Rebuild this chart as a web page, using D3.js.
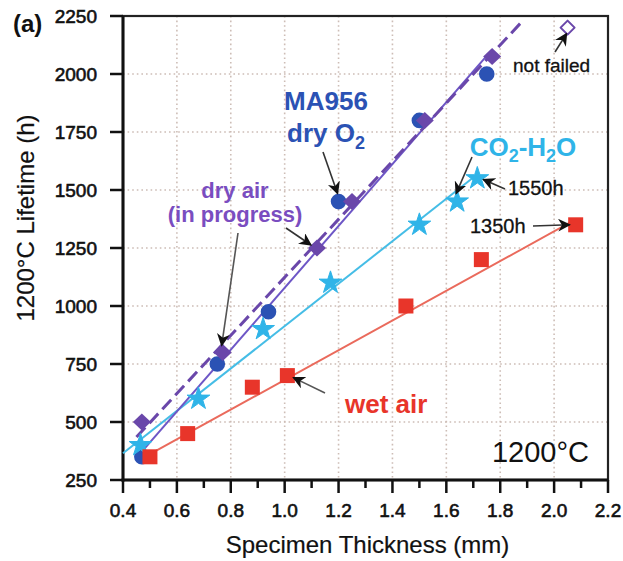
<!DOCTYPE html>
<html><head><meta charset="utf-8">
<script src="https://cdn.jsdelivr.net/npm/d3@7"></script>
<style>
html,body{margin:0;padding:0;background:#fff;}
text{font-family:"Liberation Sans",Arial,Helvetica,sans-serif;}
</style></head>
<body>
<svg id="chart" width="623" height="561"></svg>
<script>
// ---- data ----
const xTicks = [0.4,0.6,0.8,1.0,1.2,1.4,1.6,1.8,2.0,2.2];
const xTickLabels = ["0.4","0.6","0.8","1.0","1.2","1.4","1.6","1.8","2.0","2.2"];
const xMinorTicks = [0.5,0.7,0.9,1.1,1.3,1.5,1.7,1.9,2.1];
const yTicks = [250,500,750,1000,1250,1500,1750,2000,2250];
const yTickLabels = ["250","500","750","1000","1250","1500","1750","2000","2250"];

const dryO2X = [0.47,0.75,0.94,1.20,1.50,1.75];
const dryO2Y = [350,750,975,1450,1800,2000];
const dryAirX = [0.47,0.77,1.12,1.25,1.52,1.77];
const dryAirY = [500,800,1250,1450,1800,2075];
const notFailedX = [2.05];
const notFailedY = [2200];
const co2X = [0.465,0.68,0.92,1.17,1.50,1.64,1.715];
const co2Y = [400,600,900,1100,1350,1450,1550];
const wetX = [0.50,0.64,0.88,1.01,1.45,1.73,2.08];
const wetY = [350,450,650,700,1000,1200,1350];

// fit lines (endpoints)
const dryO2FitX = [0.47,1.77];
const dryO2FitY = [372,2105];
const dryAirFitX = [0.45,1.88];
const dryAirFitY = [435,2225];
const co2FitX = [0.40,1.72];
const co2FitY = [365,1572];
const wetFitX = [0.49,2.08];
const wetFitY = [355,1373];

// ---- layout ----
const svg = d3.select("#chart");
const L=123, R=608, T=16, B=480;
const x = d3.scaleLinear().domain([0.4,2.2]).range([L,R]);
const y = d3.scaleLinear().domain([250,2250]).range([B,T]);

const C = {
  blue:"#2b52b4", purple:"#6a47aa", purpleLine:"#6d56c6", purpleText:"#7a4dc0",
  cyan:"#2fb4e8", cyanLine:"#45bde6", red:"#e8352a", redLine:"#ea6a5c", grid:"#cdbdb6"
};

// grid
const g = svg.append("g");
g.selectAll(".vg").data(xTicks.slice(1,-1)).join("line")
  .attr("x1",d=>x(d)).attr("x2",d=>x(d)).attr("y1",T).attr("y2",B)
  .attr("stroke",C.grid).attr("stroke-width",1.6).attr("stroke-dasharray","1.6,3");
g.selectAll(".hg").data(yTicks.slice(1,-1)).join("line")
  .attr("y1",d=>y(d)).attr("y2",d=>y(d)).attr("x1",L).attr("x2",R)
  .attr("stroke",C.grid).attr("stroke-width",1.6).attr("stroke-dasharray","1.6,3");

// frame
svg.append("rect").attr("x",L).attr("y",T).attr("width",R-L).attr("height",B-T)
  .attr("fill","none").attr("stroke","#222").attr("stroke-width",2.2);
svg.append("line").attr("x1",L).attr("x2",L).attr("y1",T).attr("y2",B+1.5).attr("stroke","#111").attr("stroke-width",3);
svg.append("line").attr("x1",L-1.5).attr("x2",R).attr("y1",B).attr("y2",B).attr("stroke","#111").attr("stroke-width",3);

// ticks
svg.selectAll(".xt").data(xTicks).join("line")
  .attr("x1",d=>x(d)).attr("x2",d=>x(d)).attr("y1",B).attr("y2",B+13)
  .attr("stroke","#111").attr("stroke-width",2.5);
svg.selectAll(".xmt").data(xMinorTicks).join("line")
  .attr("x1",d=>x(d)).attr("x2",d=>x(d)).attr("y1",B).attr("y2",B+8)
  .attr("stroke","#111").attr("stroke-width",2.5);
svg.selectAll(".yt").data(yTicks).join("line")
  .attr("y1",d=>y(d)).attr("y2",d=>y(d)).attr("x1",L-13).attr("x2",L)
  .attr("stroke","#111").attr("stroke-width",2.5);

svg.selectAll(".xl").data(xTicks).join("text")
  .attr("x",d=>x(d)).attr("y",B+37).attr("text-anchor","middle")
  .attr("font-size",19).attr("fill","#111").attr("stroke","#111").attr("stroke-width",0.6)
  .text((d,i)=>xTickLabels[i]);
svg.selectAll(".yl").data(yTicks).join("text")
  .attr("x",97).attr("y",d=>y(d)+7).attr("text-anchor","end")
  .attr("font-size",19).attr("fill","#111").attr("stroke","#111").attr("stroke-width",0.6)
  .text((d,i)=>yTickLabels[i]);

// axis titles
svg.append("text").attr("x",(L+R)/2+2).attr("y",553).attr("text-anchor","middle")
  .attr("font-size",24).attr("fill","#111").attr("stroke","#111").attr("stroke-width",0.2)
  .text("Specimen Thickness (mm)");
svg.append("text").attr("transform","translate(34,218) rotate(-90)").attr("text-anchor","middle")
  .attr("font-size",24).attr("fill","#111").attr("stroke","#111").attr("stroke-width",0.2)
  .text("1200°C Lifetime (h)");
svg.append("text").attr("x",13).attr("y",32).attr("font-size",24).attr("font-weight","bold")
  .attr("fill","#111").text("(a)");

// fit lines
function seg(xs,ys,color,w,dash){
  svg.append("line").attr("x1",x(xs[0])).attr("y1",y(ys[0])).attr("x2",x(xs[1])).attr("y2",y(ys[1]))
    .attr("stroke",color).attr("stroke-width",w).attr("stroke-dasharray",dash||null);
}
seg(wetFitX,wetFitY,C.redLine,2);
seg(co2FitX,co2FitY,C.cyanLine,2);
seg(dryO2FitX,dryO2FitY,C.purpleLine,2);
seg(dryAirFitX,dryAirFitY,C.purple,3,"13,6");

// markers
const circ = d3.symbol().type(d3.symbolCircle).size(Math.PI*7.8*7.8)();
const sq = d3.symbol().type(d3.symbolSquare).size(15*15)();
const star = d3.symbol().type(d3.symbolStar).size(160)();
const dia = "M0,-8.5L9,0L0,8.5L-9,0Z";
const diaOpen = "M0,-7L7,0L0,7L-7,0Z";

function pts(xs,ys,path,fill,stroke,sw){
  svg.append("g").selectAll("path").data(xs.map((d,i)=>[d,ys[i]])).join("path")
    .attr("d",path).attr("transform",d=>`translate(${x(d[0])},${y(d[1])})`)
    .attr("fill",fill).attr("stroke",stroke||"none").attr("stroke-width",sw||0)
    .attr("stroke-linejoin","round");
}
pts(dryO2X,dryO2Y,circ,C.blue);
pts(dryAirX,dryAirY,dia,C.purple);
pts(notFailedX,notFailedY,diaOpen,"#fff",C.purple,2);
pts(co2X,co2Y,star,C.cyan,C.cyan,1);
pts(wetX,wetY,sq,C.red);

// arrow marker
const defs = svg.append("defs");
defs.append("marker").attr("id","ah").attr("viewBox","0 0 10 10").attr("refX",9).attr("refY",5)
  .attr("markerWidth",8).attr("markerHeight",8).attr("orient","auto-start-reverse")
  .attr("markerUnits","strokeWidth")
  .append("path").attr("d","M0,0L10,5L0,10L3,5Z").attr("fill","#111");
function arrow(x1,y1,x2,y2,color,head){
  const l = svg.append("line").attr("x1",x1).attr("y1",y1).attr("x2",x2).attr("y2",y2)
    .attr("stroke",color||"#333").attr("stroke-width",1.6);
  if(head!==false) l.attr("marker-end","url(#ah)");
}

// annotations
function txt(xp,yp,s,size,color,weight,anchor){
  return svg.append("text").attr("x",xp).attr("y",yp).attr("font-size",size).attr("fill",color)
    .attr("font-weight",weight||"normal").attr("text-anchor",anchor||"start").text(s);
}
txt(326,110,"MA956",26,C.blue,"bold","middle");
const t2 = txt(326,142,"",26,C.blue,"bold","middle");
t2.append("tspan").text("dry O");
t2.append("tspan").attr("font-size",18).attr("dy",7).text("2");
arrow(323,152,x(1.2)-1,y(1450)-8);

txt(235,198,"dry air",22,C.purpleText,"bold","middle");
txt(235,222,"(in progress)",22,C.purpleText,"bold","middle");
arrow(286,228,x(1.12)-6,y(1250)-3);
arrow(238,233,x(0.77)-1,y(800)-7,"#555");

const t3 = svg.append("text").attr("x",523).attr("y",156).attr("font-size",26).attr("fill",C.cyan)
  .attr("font-weight","bold").attr("text-anchor","middle");
t3.append("tspan").text("CO");
t3.append("tspan").attr("font-size",18).attr("dy",6).text("2");
t3.append("tspan").attr("dy",-6).text("-H");
t3.append("tspan").attr("font-size",18).attr("dy",6).text("2");
t3.append("tspan").attr("dy",-6).text("O");
arrow(472,157,x(1.64)-1,y(1450)-8);

txt(508,195,"1550h",20,"#111").attr("stroke","#111").attr("stroke-width",0.3);
arrow(505,189,x(1.715)+6,y(1550)+1);
txt(470,233,"1350h",20,"#111").attr("stroke","#111").attr("stroke-width",0.3);
arrow(533,226,x(2.08)-6,y(1350));

txt(513,72,"not failed",19,"#111").attr("stroke","#111").attr("stroke-width",0.3);
arrow(555,52,x(2.05)-1,y(2200)+6);

txt(345,413,"wet air",26,C.red,"bold");
arrow(325,393,x(1.01)+6,y(700)+2,"#555");

txt(589,462,"1200°C",29,"#111","normal","end");
</script>
</body></html>
